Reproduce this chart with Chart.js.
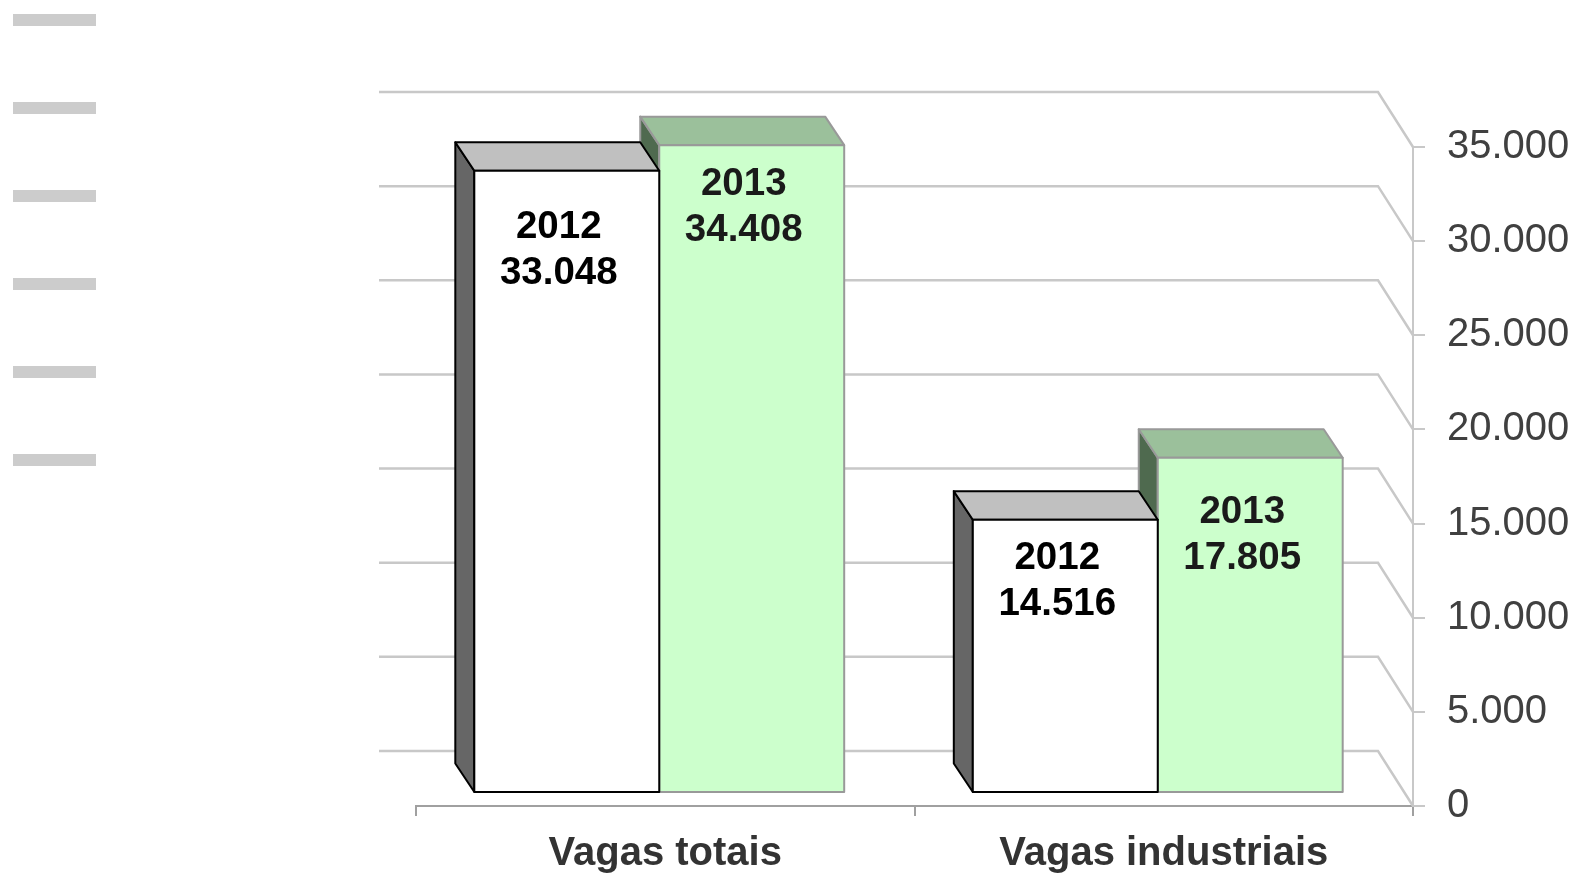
<!DOCTYPE html>
<html>
<head>
<meta charset="utf-8">
<script src="https://cdn.jsdelivr.net/npm/chart.js@4/dist/chart.umd.min.js"></script>
<style>
    body { margin: 0; background: #fff; }
    #wrap { position: relative; width: 1575px; height: 874px; }
    .dash { position: absolute; left: 13px; width: 83px; height: 12px; background: #cccccc; }
</style>
</head>
<body>
<div id="wrap">
    <canvas id="vagasChart" width="1575" height="874"></canvas>
    <div class="dash" style="top:14px"></div>
    <div class="dash" style="top:102px"></div>
    <div class="dash" style="top:190px"></div>
    <div class="dash" style="top:278px"></div>
    <div class="dash" style="top:366px"></div>
    <div class="dash" style="top:454px"></div>
</div>
<script>
const categories = ['Vagas totais', 'Vagas industriais'];
const seriesNames = ['2012', '2013'];
const values2012 = [33048, 14516];
const values2013 = [34408, 17805];
const yTickValues = [0, 5000, 10000, 15000, 20000, 25000, 30000, 35000];

const FONT = "'Liberation Sans', Arial, sans-serif";

function fmt(v) {
    return String(v).replace(/\B(?=(\d{3})+(?!\d))/g, '.');
}

// faux 3D: back wall gridlines + boxes built from the bar elements
const bars3d = {
    id: 'bars3d',
    beforeDatasetsDraw(chart, args, opts) {
        const { ctx, chartArea: a } = chart;
        const y = chart.scales.y;
        ctx.save();
        ctx.strokeStyle = '#c8c8c8';
        ctx.lineWidth = 2.5;
        yTickValues.forEach(v => {
            const py = y.getPixelForValue(v);
            ctx.beginPath();
            ctx.moveTo(a.left - 37, py - 55);
            ctx.lineTo(a.right - 35, py - 55);
            ctx.lineTo(a.right, py);
            ctx.stroke();
        });
        ctx.restore();
    },
    afterDatasetsDraw(chart, args, opts) {
        const ctx = chart.ctx;
        const dx = -19, dy = -28.5, ox = -6, oy = -13;
        // 2013 first so the 2012 box covers its side face
        [1, 0].forEach(di => {
            const st = opts.styles[di];
            chart.getDatasetMeta(di).data.forEach((el, i) => {
                const L = el.x - el.width / 2 + ox;
                const R = el.x + el.width / 2 + ox;
                const T = el.y + oy;
                const B = el.base + oy;
                ctx.save();
                ctx.lineJoin = 'round';
                ctx.lineWidth = st.lw;
                ctx.strokeStyle = st.stroke;
                // side
                ctx.beginPath();
                ctx.moveTo(L, T); ctx.lineTo(L + dx, T + dy);
                ctx.lineTo(L + dx, B + dy); ctx.lineTo(L, B); ctx.closePath();
                ctx.fillStyle = st.side; ctx.fill(); ctx.stroke();
                // top
                ctx.beginPath();
                ctx.moveTo(L, T); ctx.lineTo(L + dx, T + dy);
                ctx.lineTo(R + dx, T + dy); ctx.lineTo(R, T); ctx.closePath();
                ctx.fillStyle = st.top; ctx.fill(); ctx.stroke();
                // front
                ctx.beginPath();
                ctx.rect(L, T, R - L, B - T);
                ctx.fillStyle = st.front; ctx.fill(); ctx.stroke();

                // label
                const drop = opts.labelDrop[di][i];
                const cx = (L + R) / 2 - 8;
                ctx.fillStyle = st.text;
                ctx.font = 'bold 38.5px ' + FONT;
                ctx.textAlign = 'center';
                ctx.textBaseline = 'middle';
                ctx.fillText(seriesNames[di], cx, T + drop);
                ctx.fillText(fmt(chart.data.datasets[di].data[i]), cx, T + drop + 46);
                ctx.restore();
            });
        });
    }
};

const ctx = document.getElementById('vagasChart').getContext('2d');

new Chart(ctx, {
    type: 'bar',
    data: {
        labels: categories,
        datasets: [
            { label: seriesNames[0], data: values2012, backgroundColor: 'rgba(0,0,0,0)', borderWidth: 0 },
            { label: seriesNames[1], data: values2013, backgroundColor: 'rgba(0,0,0,0)', borderWidth: 0 }
        ]
    },
    options: {
        responsive: false,
        animation: false,
        layout: { padding: { left: 416, top: 147, right: 0, bottom: 0 } },
        datasets: { bar: { categoryPercentage: 0.742, barPercentage: 1 } },
        plugins: {
            legend: { display: false },
            tooltip: { enabled: false },
            bars3d: {
                styles: [
                    { front: '#ffffff', top: '#c0c0c0', side: '#666666', stroke: '#000000', lw: 2, text: '#000000' },
                    { front: '#ccffcc', top: '#9bc09b', side: '#4f6a4f', stroke: '#999999', lw: 2, text: '#1a1a1a' }
                ],
                labelDrop: [[57, 39], [39, 55]]
            }
        },
        scales: {
            x: {
                grid: { offset: true, drawOnChartArea: false, drawTicks: true, tickLength: 10, color: '#a0a0a0', lineWidth: 2 },
                border: { color: '#a0a0a0', width: 2 },
                ticks: { padding: 14, color: '#333333', font: { family: FONT, size: 40, weight: 'bold' } },
                afterFit: s => { s.height = 68; }
            },
            y: {
                position: 'right',
                min: 0,
                max: 35000,
                grid: { drawOnChartArea: false, drawTicks: true, tickLength: 12, color: '#c8c8c8', lineWidth: 2 },
                border: { color: '#c8c8c8', width: 2 },
                ticks: {
                    stepSize: 5000,
                    padding: 22,
                    color: '#404040',
                    font: { family: FONT, size: 40 },
                    callback: v => fmt(v)
                },
                afterFit: s => { s.width = 162; }
            }
        }
    },
    plugins: [bars3d]
});
</script>
</body>
</html>
